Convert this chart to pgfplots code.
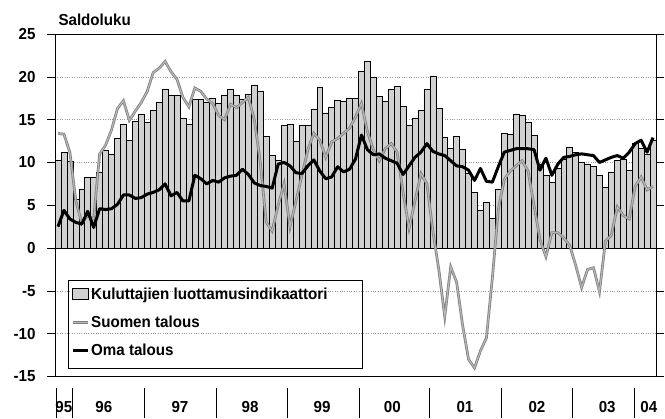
\documentclass[border=0pt]{standalone}
\usepackage{fontspec}
\setmainfont{Liberation Sans}[FakeStretch=0.95]
\usepackage{pgfplots}
\usepackage{pgfplotstable}
\pgfplotsset{compat=1.18}

\pgfplotstableread{
k bar suomi oma
0 10.3 13.4 2.5
1 11.2 13.3 4.4
2 10.1 11.2 3.4
3 5.7 5.5 3.0
4 6.9 2.9 2.8
5 8.3 3.8 4.3
6 8.3 3.4 2.4
7 8.9 11.0 4.6
8 11.4 12.0 4.5
9 10.9 13.8 4.6
10 12.8 16.3 5.1
11 14.5 17.2 6.2
12 12.6 14.9 6.2
13 14.8 16.0 5.8
14 15.6 17.0 5.9
15 14.7 18.3 6.3
16 16.1 20.5 6.5
17 17.0 21.0 6.8
18 18.6 21.8 7.5
19 17.9 20.6 6.1
20 17.8 19.7 6.5
21 15.2 17.6 5.5
22 14.5 16.5 5.5
23 17.4 18.7 8.5
24 17.4 18.3 8.1
25 17.0 17.4 7.5
26 17.5 16.9 7.9
27 16.9 15.5 7.7
28 17.9 15.0 8.2
29 18.6 16.8 8.4
30 17.9 16.4 8.5
31 17.4 17.0 9.2
32 18.0 17.6 8.6
33 19.0 15.0 7.6
34 18.3 10.0 7.3
35 13.0 3.0 7.2
36 10.8 2.0 7.0
37 10.2 5.0 9.8
38 14.3 7.5 10.0
39 14.5 2.5 9.6
40 12.5 5.5 8.8
41 14.3 8.5 8.7
42 14.3 11.5 9.6
43 16.2 13.4 10.3
44 18.75 12.6 9.0
45 15.8 10.6 8.1
46 16.4 12.4 8.3
47 17.3 12.8 9.5
48 17.1 13.4 8.9
49 17.5 14.0 9.2
50 17.5 15.3 10.4
51 20.7 16.9 13.2
52 21.8 13.6 11.5
53 20.0 11.5 10.9
54 17.7 10.2 11.0
55 17.1 11.6 10.5
56 18.6 12.2 10.2
57 18.9 11.2 9.9
58 16.6 6.5 8.6
59 14.3 2.3 9.6
60 15.2 5.5 10.6
61 16.1 8.7 11.2
62 18.6 7.5 12.2
63 20.1 2.0 11.3
64 16.3 -2.5 11.0
65 12.9 -8.0 10.8
66 11.6 -2.2 10.2
67 13.0 -4.0 9.6
68 11.5 -9.0 9.5
69 8.75 -13.0 9.1
70 6.5 -14.0 7.9
71 4.4 -12.0 9.3
72 5.3 -10.5 7.8
73 3.5 -3.5 7.7
74 6.9 4.5 9.5
75 13.4 8.0 11.2
76 13.3 9.0 11.4
77 15.6 9.6 11.6
78 15.5 10.2 11.6
79 14.7 9.0 11.6
80 13.2 5.0 11.5
81 9.8 1.0 9.1
82 8.5 -1.0 10.5
83 7.7 1.8 8.5
84 9.3 1.8 9.8
85 10.4 1.2 10.6
86 11.8 0.3 10.7
87 11.2 -2.0 10.9
88 10.0 -4.6 11.0
89 9.8 -2.5 10.9
90 9.5 -2.3 10.8
91 8.5 -5.1 10.0
92 7.1 0.8 10.3
93 8.9 1.5 10.6
94 10.2 4.8 10.8
95 10.4 3.8 10.5
96 9.1 3.4 11.2
97 12.2 7.2 12.2
98 11.6 8.3 12.6
99 11.0 6.8 11.2
100 12.6 7.2 12.9
}\data

\begin{document}
\begin{tikzpicture}[font=\bfseries]
\begin{axis}[
  width=601bp, height=342.5bp, scale only axis,
  xmin=-0.5, xmax=100.5, ymin=-15, ymax=25,
  ytick={-15,-10,...,25},
  ymajorgrids,
  grid style={dotted, black!40, line width=0.6bp},
  extra y ticks={0}, extra y tick labels={},
  extra y tick style={grid style={solid, black, line width=1.1bp}},
  xtick={1.0,7.7,20.5,32.3,44.4,56.2,68.4,80.5,92.3,99.3},
  xticklabels={95,96,97,98,99,00,01,02,03,04},
  x tick style={draw=none},
  y tick style={black, line width=0.6bp},
  tick align=outside, major tick length=8bp,
  axis line style={line width=0.9bp},
  tick label style={font=\fontsize{16}{18}\selectfont\bfseries},
  xticklabel style={yshift=-13bp},
  yticklabel style={xshift=-8bp},
  /pgf/number format/assume math mode=true,
  clip=false,
  legend style={at={(0.0216,0.279)}, anchor=north west, draw=none, fill=none,
    font=\fontsize{16}{18}\selectfont\bfseries,
    inner xsep=3bp, inner ysep=5bp, row sep=11bp,
    cells={anchor=west}},
  legend cell align=left,
]
\addplot[ybar, bar width=1, bar shift=0pt, fill=black!18, draw=black, line width=0.55bp,
  legend image code/.code={\draw[fill=black!18, draw=black, line width=0.5bp] (0bp,-5bp) rectangle (16bp,6bp);}]
  table[x=k, y=bar] {\data};
\addlegendentry{Kuluttajien luottamusindikaattori}
\addplot[draw=black!50, line width=0.8bp, double=black!28, double distance=1.1bp, sharp plot,
  legend image code/.code={\draw (0bp,0bp) -- (15bp,0bp);}]
  table[x=k, y=suomi] {\data};
\addlegendentry{Suomen talous}
\addplot[black, line width=3bp, sharp plot, line join=round,
  legend image code/.code={\draw (0bp,0bp) -- (15bp,0bp);}]
  table[x=k, y=oma] {\data};
\addlegendentry{Oma talous}
\draw[line width=0.9bp] (rel axis cs:0.0216,0.0248) rectangle (rel axis cs:0.511,0.279);
\node[anchor=base west, font=\fontsize{16}{18}\selectfont\bfseries] at (rel axis cs:0,1.0242) {Saldoluku};
\pgfplotsinvokeforeach{-0.33,2.5,14.6,26.6,38.5,50.6,62.4,74.5,86.5,96.8}{
  \draw[line width=0.8bp] (axis cs:#1,-16.3) -- (axis cs:#1,-19.8);
}
\coordinate (bbsw) at (rel axis cs:-0.0915,-0.1212);
\coordinate (bbne) at (rel axis cs:1.015,1.0993);
\end{axis}
\pgfresetboundingbox
\path[use as bounding box] (bbsw) rectangle (bbne);
\end{tikzpicture}
\end{document}
